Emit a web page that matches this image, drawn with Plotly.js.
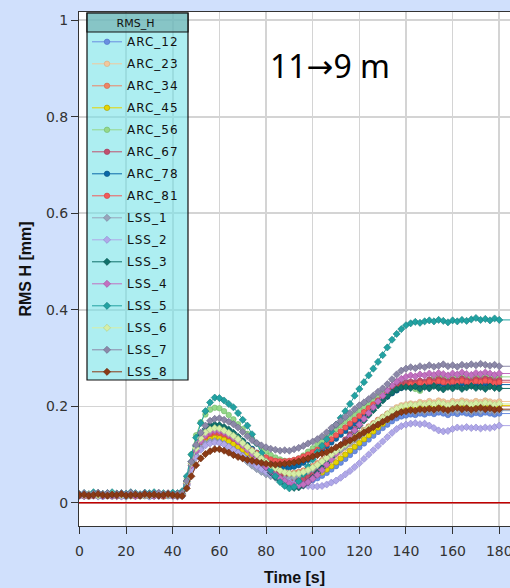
<!DOCTYPE html>
<html>
<head>
<meta charset="utf-8">
<script src="https://cdn.plot.ly/plotly-3.0.1.min.js"></script>
<style>
  html, body { margin: 0; padding: 0; background: #d0e0fc; }
  #chart { width: 510px; height: 588px; }
  .legendtext { letter-spacing: 1px; }
</style>
</head>
<body>
<div id="chart"></div>
<script>
// Sampling times [s]
const time = [0,2,4,6,8,10,12,14,16,18,20,22,24,26,28,30,32,34,36,38,40,42,44,
  46,48,50,52,54,56,58,60,62,64,66,68,70,72,74,76,78,80,82,84,86,88,90,92,94,96,98,
  100,102,104,106,108,110,112,114,116,118,120,122,124,126,128,130,132,134,136,138,
  140,142,144,146,148,150,152,154,156,158,160,162,164,166,168,170,172,174,176,178,180];

// RMS H [mm] per sensor
const ARC_12 = [0.014,0.015,0.013,0.015,0.014,0.013,0.015,0.014,0.016,0.014,0.013,0.015,0.014,0.016,0.015,0.013,0.014,0.015,0.013,0.016,0.014,0.015,0.014,
  0.036,0.07,0.098,0.116,0.127,0.132,0.134,0.133,0.13,0.125,0.119,0.112,0.105,0.097,0.089,0.082,0.075,0.068,0.062,0.057,0.052,0.048,0.045,0.043,0.042,0.042,0.044,
  0.047,0.051,0.056,0.062,0.069,0.076,0.083,0.091,0.099,0.107,0.115,0.123,0.131,0.139,0.147,0.155,0.162,0.169,0.175,0.179,
  0.181,0.183,0.182,0.185,0.183,0.186,0.184,0.187,0.185,0.182,0.186,0.184,0.187,0.185,0.183,0.186,0.184,0.187,0.185,0.183,0.185];
const ARC_23 = [0.014,0.015,0.013,0.015,0.014,0.016,0.014,0.013,0.015,0.014,0.016,0.015,0.013,0.014,0.015,0.016,0.014,0.015,0.013,0.015,0.014,0.016,0.015,
  0.038,0.074,0.102,0.121,0.132,0.138,0.14,0.139,0.136,0.131,0.125,0.118,0.111,0.103,0.096,0.089,0.082,0.075,0.069,0.063,0.058,0.054,0.051,0.05,0.05,0.052,0.056,
  0.061,0.067,0.074,0.081,0.089,0.097,0.105,0.113,0.121,0.129,0.137,0.145,0.153,0.161,0.169,0.177,0.185,0.192,0.198,0.202,
  0.204,0.206,0.205,0.209,0.207,0.211,0.208,0.212,0.21,0.207,0.211,0.209,0.212,0.21,0.208,0.211,0.209,0.212,0.21,0.208,0.21];
const ARC_34 = [0.016,0.015,0.017,0.014,0.016,0.015,0.017,0.016,0.014,0.015,0.016,0.017,0.015,0.014,0.016,0.015,0.017,0.016,0.014,0.015,0.016,0.015,0.017,
  0.04,0.076,0.104,0.123,0.134,0.14,0.142,0.141,0.138,0.133,0.127,0.12,0.113,0.106,0.099,0.092,0.086,0.08,0.075,0.07,0.066,0.063,0.062,0.062,0.064,0.067,0.071,
  0.076,0.082,0.088,0.095,0.102,0.109,0.116,0.123,0.13,0.137,0.144,0.151,0.158,0.165,0.172,0.178,0.184,0.189,0.193,0.196,
  0.197,0.199,0.198,0.201,0.199,0.202,0.2,0.203,0.201,0.198,0.202,0.2,0.203,0.201,0.199,0.202,0.2,0.203,0.201,0.199,0.201];
const ARC_45 = [0.015,0.014,0.016,0.015,0.014,0.016,0.015,0.017,0.014,0.015,0.016,0.014,0.015,0.016,0.014,0.015,0.017,0.015,0.014,0.016,0.015,0.014,0.016,
  0.037,0.072,0.099,0.117,0.128,0.133,0.135,0.134,0.131,0.127,0.122,0.116,0.11,0.103,0.097,0.09,0.084,0.078,0.072,0.067,0.063,0.059,0.056,0.054,0.053,0.053,0.054,
  0.056,0.059,0.063,0.069,0.076,0.084,0.092,0.1,0.108,0.116,0.124,0.132,0.14,0.148,0.156,0.164,0.172,0.18,0.187,0.192,
  0.195,0.198,0.197,0.201,0.199,0.203,0.2,0.204,0.202,0.199,0.203,0.201,0.204,0.202,0.2,0.203,0.201,0.204,0.202,0.2,0.202];
const ARC_56 = [0.015,0.016,0.014,0.017,0.015,0.016,0.018,0.015,0.014,0.016,0.017,0.015,0.016,0.014,0.017,0.016,0.015,0.017,0.016,0.014,0.016,0.015,0.018,
  0.05,0.1,0.14,0.167,0.183,0.193,0.197,0.196,0.19,0.182,0.173,0.163,0.153,0.143,0.133,0.123,0.114,0.106,0.099,0.094,0.09,0.087,0.086,0.088,0.092,0.098,0.106,
  0.113,0.12,0.128,0.136,0.144,0.152,0.16,0.168,0.176,0.184,0.192,0.199,0.206,0.213,0.22,0.227,0.233,0.239,0.244,0.246,
  0.25,0.245,0.236,0.232,0.245,0.255,0.26,0.263,0.258,0.254,0.26,0.257,0.262,0.259,0.255,0.261,0.258,0.263,0.26,0.257,0.261];
const ARC_67 = [0.016,0.015,0.017,0.016,0.014,0.016,0.017,0.015,0.016,0.014,0.017,0.016,0.015,0.017,0.016,0.014,0.016,0.017,0.015,0.016,0.014,0.016,0.017,
  0.042,0.08,0.11,0.13,0.142,0.149,0.152,0.151,0.148,0.143,0.137,0.13,0.122,0.114,0.105,0.097,0.089,0.081,0.073,0.066,0.06,0.054,0.05,0.047,0.046,0.048,0.053,
  0.06,0.068,0.077,0.087,0.098,0.109,0.12,0.131,0.142,0.153,0.164,0.175,0.186,0.197,0.207,0.217,0.226,0.234,0.241,0.246,
  0.249,0.251,0.25,0.253,0.251,0.255,0.252,0.256,0.254,0.251,0.255,0.253,0.257,0.254,0.252,0.256,0.254,0.257,0.255,0.252,0.254];
const ARC_78 = [0.016,0.017,0.015,0.016,0.018,0.016,0.015,0.017,0.016,0.015,0.017,0.016,0.018,0.015,0.016,0.017,0.015,0.016,0.018,0.016,0.015,0.017,0.016,
  0.044,0.084,0.116,0.137,0.149,0.155,0.158,0.157,0.154,0.149,0.143,0.136,0.128,0.12,0.112,0.104,0.096,0.089,0.083,0.078,0.075,0.073,0.073,0.075,0.078,0.083,0.089,
  0.095,0.102,0.109,0.117,0.125,0.133,0.141,0.149,0.157,0.165,0.173,0.181,0.189,0.197,0.205,0.213,0.22,0.227,0.233,0.238,
  0.241,0.243,0.242,0.245,0.243,0.246,0.244,0.247,0.245,0.242,0.246,0.244,0.247,0.245,0.243,0.246,0.244,0.247,0.245,0.243,0.245];
const ARC_81 = [0.015,0.016,0.014,0.016,0.015,0.017,0.015,0.014,0.016,0.015,0.017,0.016,0.014,0.015,0.016,0.017,0.015,0.016,0.014,0.016,0.015,0.017,0.016,
  0.04,0.078,0.107,0.126,0.137,0.143,0.146,0.145,0.142,0.138,0.133,0.127,0.121,0.115,0.109,0.103,0.098,0.094,0.09,0.087,0.086,0.086,0.087,0.089,0.092,0.096,0.1,
  0.105,0.11,0.116,0.122,0.132,0.14,0.148,0.156,0.164,0.172,0.18,0.188,0.196,0.204,0.212,0.219,0.226,0.232,0.237,0.241,
  0.243,0.246,0.245,0.249,0.247,0.251,0.248,0.252,0.25,0.247,0.251,0.249,0.253,0.25,0.248,0.252,0.25,0.253,0.251,0.248,0.25];
const LSS_1 = [0.016,0.015,0.017,0.016,0.014,0.016,0.015,0.017,0.016,0.015,0.014,0.016,0.017,0.015,0.016,0.014,0.016,0.015,0.017,0.016,0.015,0.014,0.016,
  0.038,0.072,0.098,0.114,0.123,0.127,0.128,0.126,0.122,0.116,0.109,0.101,0.093,0.085,0.077,0.07,0.064,0.059,0.055,0.052,0.05,0.05,0.051,0.053,0.056,0.06,0.065,
  0.07,0.076,0.082,0.089,0.096,0.103,0.11,0.117,0.124,0.131,0.138,0.145,0.152,0.159,0.165,0.171,0.177,0.182,0.186,0.188,
  0.189,0.19,0.188,0.191,0.189,0.192,0.19,0.193,0.191,0.188,0.192,0.19,0.193,0.191,0.189,0.192,0.19,0.193,0.191,0.189,0.191];
const LSS_2 = [0.015,0.014,0.016,0.015,0.013,0.015,0.016,0.014,0.015,0.013,0.016,0.015,0.014,0.016,0.015,0.013,0.015,0.014,0.016,0.015,0.014,0.013,0.015,
  0.036,0.069,0.094,0.11,0.119,0.123,0.125,0.124,0.121,0.116,0.11,0.104,0.097,0.09,0.083,0.076,0.07,0.064,0.059,0.054,0.05,0.046,0.043,0.04,0.038,0.036,0.035,
  0.034,0.034,0.035,0.038,0.042,0.046,0.052,0.059,0.066,0.074,0.082,0.091,0.1,0.109,0.118,0.127,0.136,0.145,0.153,0.159,
  0.162,0.164,0.165,0.163,0.164,0.16,0.155,0.15,0.148,0.149,0.153,0.156,0.155,0.157,0.155,0.156,0.154,0.156,0.155,0.157,0.16];
const LSS_3 = [0.017,0.018,0.016,0.019,0.017,0.018,0.016,0.017,0.019,0.018,0.016,0.017,0.018,0.016,0.019,0.017,0.018,0.016,0.017,0.019,0.018,0.016,0.018,
  0.045,0.085,0.118,0.14,0.153,0.16,0.162,0.161,0.157,0.152,0.145,0.137,0.128,0.118,0.107,0.096,0.085,0.074,0.063,0.054,0.046,0.039,0.034,0.031,0.032,0.036,0.043,
  0.052,0.062,0.072,0.083,0.094,0.105,0.116,0.127,0.138,0.149,0.16,0.171,0.182,0.192,0.202,0.212,0.221,0.229,0.235,0.239,
  0.24,0.238,0.241,0.236,0.24,0.237,0.242,0.238,0.235,0.24,0.237,0.241,0.236,0.239,0.242,0.238,0.24,0.236,0.241,0.238,0.237];
const LSS_4 = [0.015,0.014,0.016,0.015,0.017,0.014,0.015,0.016,0.014,0.017,0.015,0.016,0.014,0.015,0.017,0.016,0.014,0.015,0.016,0.017,0.015,0.014,0.016,
  0.04,0.078,0.108,0.128,0.14,0.147,0.15,0.149,0.146,0.141,0.135,0.127,0.119,0.11,0.101,0.092,0.083,0.074,0.066,0.058,0.051,0.045,0.04,0.037,0.036,0.038,0.043,
  0.05,0.058,0.068,0.079,0.09,0.102,0.114,0.126,0.138,0.15,0.162,0.174,0.186,0.198,0.21,0.222,0.233,0.243,0.251,0.257,
  0.261,0.264,0.262,0.266,0.264,0.268,0.265,0.269,0.267,0.264,0.268,0.266,0.27,0.267,0.265,0.269,0.267,0.27,0.268,0.265,0.268];
const LSS_5 = [0.018,0.02,0.018,0.022,0.02,0.018,0.02,0.022,0.018,0.02,0.019,0.022,0.02,0.018,0.021,0.02,0.022,0.019,0.02,0.018,0.021,0.02,0.024,
  0.055,0.1,0.135,0.165,0.19,0.208,0.218,0.217,0.212,0.205,0.198,0.186,0.172,0.16,0.142,0.123,0.103,0.085,0.068,0.055,0.043,0.035,0.03,0.033,0.045,0.06,0.075,
  0.09,0.105,0.118,0.132,0.148,0.162,0.176,0.19,0.205,0.222,0.236,0.25,0.264,0.278,0.292,0.306,0.322,0.338,0.35,0.36,
  0.368,0.372,0.375,0.373,0.376,0.378,0.376,0.379,0.377,0.374,0.378,0.376,0.379,0.377,0.38,0.383,0.379,0.381,0.378,0.382,0.379];
const LSS_6 = [0.017,0.016,0.018,0.017,0.015,0.017,0.016,0.018,0.017,0.016,0.015,0.017,0.018,0.016,0.017,0.015,0.017,0.016,0.018,0.017,0.016,0.015,0.017,
  0.042,0.082,0.113,0.134,0.146,0.152,0.155,0.154,0.15,0.145,0.139,0.132,0.124,0.116,0.108,0.1,0.092,0.085,0.078,0.072,0.067,0.063,0.061,0.06,0.061,0.064,0.068,
  0.073,0.079,0.086,0.093,0.1,0.107,0.114,0.121,0.128,0.135,0.142,0.149,0.156,0.163,0.17,0.177,0.184,0.19,0.195,0.199,
  0.201,0.203,0.202,0.205,0.203,0.206,0.204,0.207,0.205,0.202,0.206,0.204,0.207,0.205,0.203,0.206,0.204,0.207,0.205,0.203,0.205];
const LSS_7 = [0.018,0.02,0.017,0.019,0.021,0.018,0.02,0.017,0.019,0.02,0.018,0.021,0.019,0.017,0.02,0.018,0.019,0.021,0.018,0.02,0.017,0.019,0.02,
  0.045,0.085,0.12,0.145,0.16,0.17,0.174,0.175,0.172,0.168,0.163,0.156,0.147,0.138,0.13,0.124,0.119,0.115,0.112,0.11,0.108,0.109,0.108,0.111,0.114,0.118,0.123,
  0.127,0.132,0.138,0.146,0.155,0.162,0.17,0.178,0.186,0.194,0.202,0.208,0.215,0.222,0.23,0.237,0.246,0.256,0.266,0.274,
  0.278,0.281,0.279,0.283,0.281,0.285,0.282,0.284,0.287,0.283,0.285,0.282,0.286,0.284,0.287,0.285,0.288,0.286,0.284,0.286,0.283];
const LSS_8 = [0.016,0.017,0.015,0.016,0.018,0.016,0.015,0.017,0.016,0.018,0.015,0.016,0.017,0.015,0.018,0.016,0.017,0.015,0.016,0.018,0.016,0.015,0.014,
  0.03,0.055,0.078,0.092,0.101,0.107,0.111,0.111,0.108,0.104,0.099,0.095,0.092,0.089,0.087,0.085,0.083,0.081,0.08,0.079,0.08,0.081,0.082,0.084,0.086,0.089,0.092,
  0.096,0.099,0.102,0.105,0.11,0.115,0.12,0.125,0.129,0.134,0.14,0.146,0.151,0.157,0.162,0.168,0.173,0.178,0.184,0.188,
  0.19,0.192,0.191,0.194,0.193,0.195,0.193,0.196,0.194,0.192,0.195,0.197,0.194,0.196,0.193,0.195,0.197,0.194,0.196,0.193,0.194];

const seriesNames = ['ARC_12','ARC_23','ARC_34','ARC_45','ARC_56','ARC_67','ARC_78','ARC_81',
  'LSS_1','LSS_2','LSS_3','LSS_4','LSS_5','LSS_6','LSS_7','LSS_8'];
const seriesValues = [ARC_12, ARC_23, ARC_34, ARC_45, ARC_56, ARC_67, ARC_78, ARC_81,
  LSS_1, LSS_2, LSS_3, LSS_4, LSS_5, LSS_6, LSS_7, LSS_8];
const seriesColors = ['#6a8ee0','#f2c89c','#ee8466','#e6d400','#96d88a','#c0506e','#0a68a8','#f25a5a',
  '#98a4ba','#b0a8e8','#10706a','#c270c0','#22a2a2','#d6eea6','#8c88a8','#8a3a16'];
const markerLines = ['#4a6ec8','#d8aa80','#d06848','#a89a00','#70b868','#a03858','#08507e','#d04040',
  '#7884a0','#8c84cc','#0a5450','#a050a0','#178080','#b0cc84','#6c6888','#6a2a0c'];

// Each sensor's last reading is carried on to the right edge of the plot, line only
const tailTime = 190;

const traces = [];
seriesNames.forEach((name, i) => {
  const ys = seriesValues[i];
  traces.push({
    type: 'scatter', mode: 'lines', showlegend: false, hoverinfo: 'skip',
    x: [time[time.length - 1], tailTime],
    y: [ys[ys.length - 1], ys[ys.length - 1]],
    line: { color: seriesColors[i], width: 1 }
  });
});
seriesNames.forEach((name, i) => {
  const isArc = name.startsWith('ARC');
  traces.push({
    type: 'scatter',
    mode: 'lines+markers',
    name: name,
    legendgroup: name,
    x: time,
    y: seriesValues[i],
    line: { color: seriesColors[i], width: 1 },
    marker: {
      symbol: isArc ? 'circle' : 'diamond',
      size: isArc ? 5.5 : 5.5,
      color: seriesColors[i],
      line: { color: markerLines[i], width: 0.6 }
    },
    hoverinfo: 'x+y+name'
  });
});

const plotLeft = 79, plotTop = 12, plotW = 431, plotH = 514;
const px = v => (v - plotLeft) / plotW;
const py = v => (plotTop + plotH - v) / plotH;

const tickFont = { family: 'DejaVu Sans, sans-serif', size: 14, color: '#333' };
const titleFont = { family: 'Liberation Sans, Arial, sans-serif', size: 16, color: '#111', weight: 'bold' };

const layout = {
  width: 510,
  height: 588,
  margin: { l: plotLeft, r: 510 - plotLeft - plotW, t: plotTop, b: 588 - plotTop - plotH, pad: 0 },
  paper_bgcolor: '#d0e0fc',
  plot_bgcolor: '#ffffff',
  showlegend: true,
  font: { family: 'DejaVu Sans, sans-serif', color: '#222' },
  xaxis: {
    range: [-0.2, 184.6],
    dtick: 20,
    tick0: 0,
    ticks: 'outside',
    ticklen: 7,
    tickcolor: '#333',
    ticklabeloverflow: 'allow',
    ticklabelstandoff: 5,
    showline: true,
    linecolor: '#333',
    linewidth: 1,
    mirror: true,
    showgrid: true,
    gridcolor: '#d4d4d4',
    gridwidth: 1.6,
    zeroline: false,
    tickfont: tickFont,
    title: { text: 'Time [s]', font: titleFont, standoff: 14 }
  },
  yaxis: {
    range: [-0.048, 1.017],
    dtick: 0.2,
    tick0: 0,
    ticks: 'outside',
    ticklen: 7,
    tickcolor: '#333',
    showline: true,
    linecolor: '#333',
    linewidth: 1,
    showgrid: true,
    gridcolor: '#d4d4d4',
    gridwidth: 1.6,
    zeroline: false,
    tickfont: tickFont,
    title: { text: 'RMS H [mm]', font: titleFont, standoff: 10 }
  },
  legend: {
    x: px(87),
    y: py(13),
    xanchor: 'left',
    yanchor: 'top',
    bgcolor: 'rgba(0,0,0,0)',
    borderwidth: 0,
    tracegroupgap: 3,
    itemclick: false,
    font: { family: 'DejaVu Sans, sans-serif', size: 12, color: '#111' },
    title: { text: 'RMS_H', side: 'top center', font: { family: 'DejaVu Sans, sans-serif', size: 11, color: '#111' } }
  },
  shapes: [
    { type: 'line', xref: 'paper', x0: 0, x1: 1, yref: 'y', y0: 0, y1: 0,
      line: { color: '#c00000', width: 1.5 }, layer: 'above' },
    { type: 'rect', xref: 'paper', yref: 'paper', x0: px(87), x1: px(188), y0: py(380), y1: py(13),
      fillcolor: 'rgba(118,226,232,0.6)', line: { color: '#111', width: 1.2 }, layer: 'above' },
    { type: 'rect', xref: 'paper', yref: 'paper', x0: px(87), x1: px(188), y0: py(32), y1: py(13),
      fillcolor: 'rgba(110,170,170,0.6)', line: { color: '#111', width: 1.2 }, layer: 'above' }
  ],
  annotations: [
    { xref: 'paper', yref: 'paper', x: px(268), y: py(66), xanchor: 'left', yanchor: 'middle',
      text: '11<span style="font-family:DejaVu Sans">\u2192</span>9 m', showarrow: false,
      font: { family: 'Noto Sans, Open Sans, sans-serif', size: 32, color: '#000' } }
  ]
};

Plotly.newPlot('chart', traces, layout, { displayModeBar: false, staticPlot: true });
</script>
</body>
</html>
